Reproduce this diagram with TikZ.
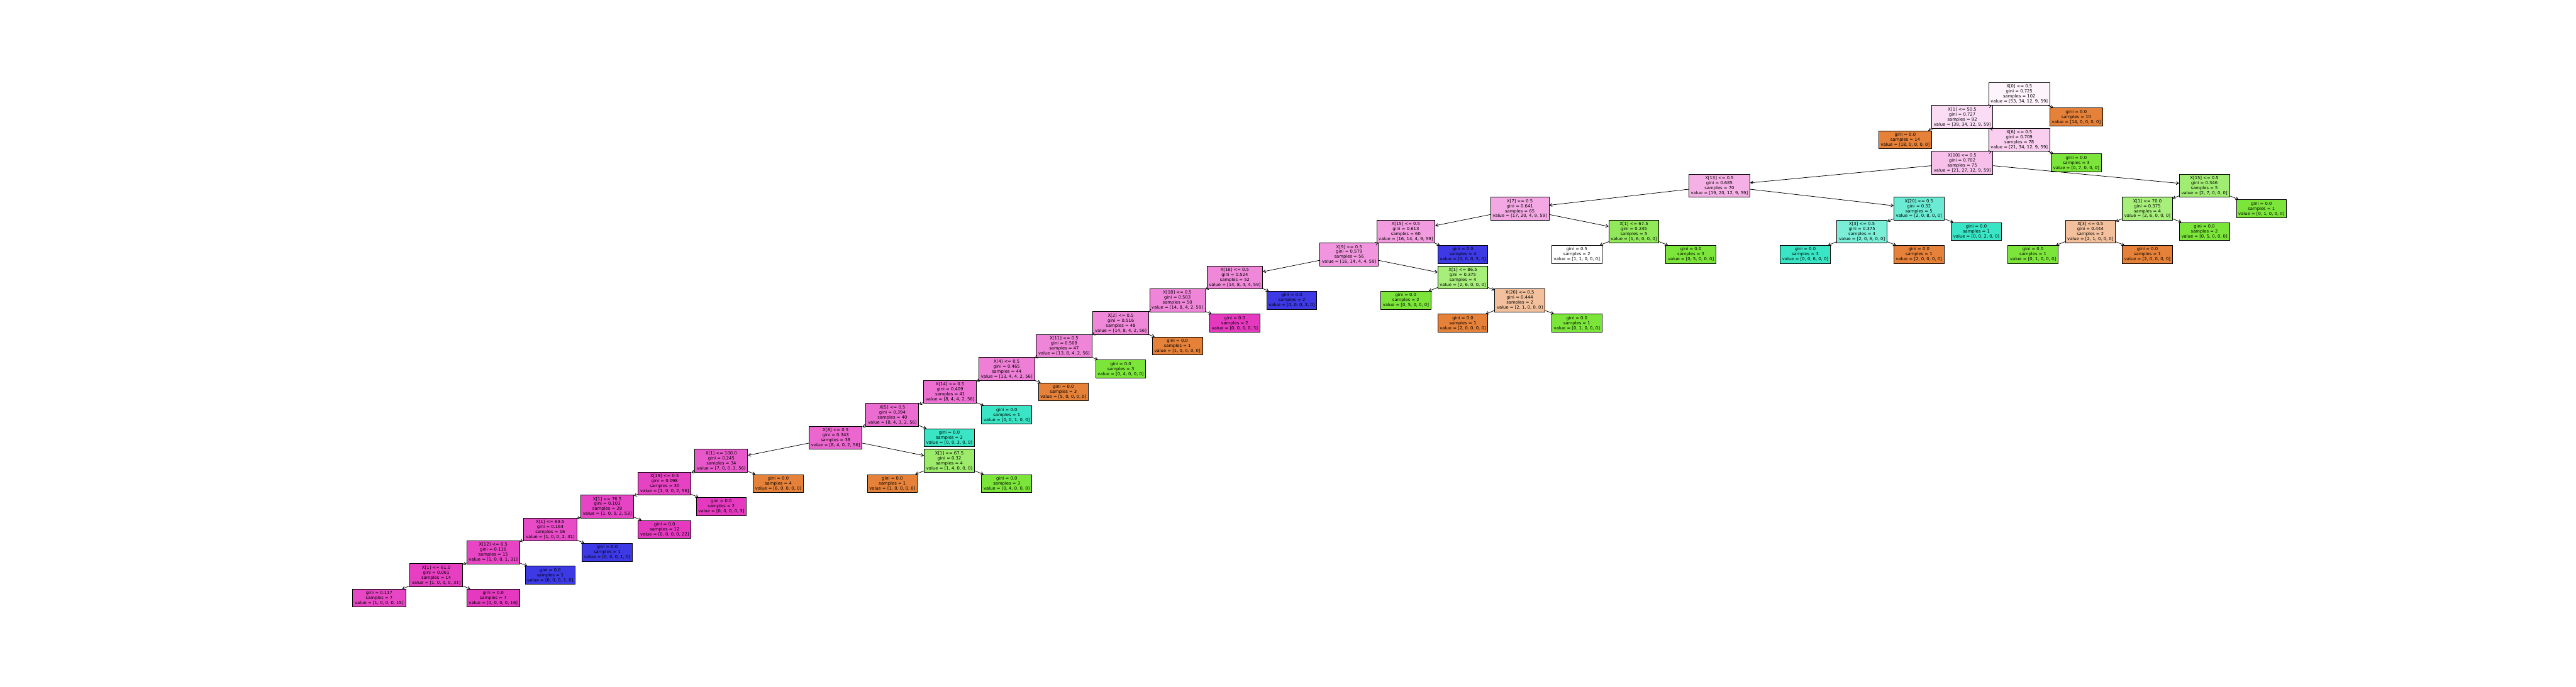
\documentclass[tikz,border=0pt]{standalone}
\usepackage{fontspec}
\setmainfont{DejaVu Sans}
\usetikzlibrary{arrows.meta}
\definecolor{cO}{RGB}{229,129,57}
\definecolor{cG}{RGB}{123,229,57}
\definecolor{cT}{RGB}{57,229,197}
\definecolor{cB}{RGB}{60,57,229}
\definecolor{cM}{RGB}{229,57,192}
\tikzset{
  tbox/.style={draw=black, line width=0.45pt, rectangle, align=center,
    inner xsep=1.7pt, inner ysep=1.7pt,
    font=\fontsize{3.56pt}{4.15pt}\selectfont},
  edge/.style={draw=black, line width=0.4pt, -{Straight Barb[length=2pt,width=2.6pt]}}
}
\newcommand{\tn}[5]{\node[tbox,fill=#4] (#1) at ({#2/100},{17.26-0.6675*#3}) {#5};}
\begin{document}
\begin{tikzpicture}
\fill[white] (0,0) rectangle (75,20);
\useasboundingbox (0,0) rectangle (75,20);
% level 0-4
\tn{root}{5879}{0}{cM!5!white}{X[0] <= 0.5\\gini = 0.725\\samples = 102\\value = [53, 34, 12, 9, 59]}
\tn{n1}{5713}{1}{cM!17.5!white}{X[1] <= 50.5\\gini = 0.727\\samples = 92\\value = [39, 34, 12, 9, 59]}
\tn{n1r}{6045}{1}{cO}{gini = 0.0\\samples = 10\\value = [14, 0, 0, 0, 0]}
\tn{n2l}{5547}{2}{cO}{gini = 0.0\\samples = 14\\value = [18, 0, 0, 0, 0]}
\tn{n2}{5879}{2}{cM!24.75!white}{X[6] <= 0.5\\gini = 0.709\\samples = 78\\value = [21, 34, 12, 9, 59]}
\tn{n3}{5713}{3}{cM!31.7!white}{X[10] <= 0.5\\gini = 0.702\\samples = 75\\value = [21, 27, 12, 9, 59]}
\tn{n3r}{6045}{3}{cG}{gini = 0.0\\samples = 3\\value = [0, 7, 0, 0, 0]}
\tn{n4}{5006}{4}{cM!39.4!white}{X[13] <= 0.5\\gini = 0.685\\samples = 70\\value = [19, 20, 12, 9, 59]}
\tn{n4r}{6418}{4}{cG!71.4!white}{X[15] <= 0.5\\gini = 0.346\\samples = 5\\value = [2, 7, 0, 0, 0]}
% level 5
\tn{a}{4425}{5}{cM!43.8!white}{X[7] <= 0.5\\gini = 0.641\\samples = 65\\value = [17, 20, 4, 9, 59]}
\tn{b}{5587}{5}{cT!75!white}{X[20] <= 0.5\\gini = 0.32\\samples = 5\\value = [2, 0, 8, 0, 0]}
\tn{c}{6252}{5}{cG!66.7!white}{X[1] <= 70.0\\gini = 0.375\\samples = 4\\value = [2, 6, 0, 0, 0]}
\tn{d}{6584}{5}{cG}{gini = 0.0\\samples = 1\\value = [0, 1, 0, 0, 0]}
% level 6
\tn{a1}{4093}{6}{cM!50!white}{X[15] <= 0.5\\gini = 0.613\\samples = 60\\value = [16, 14, 4, 9, 59]}
\tn{a2}{4757}{6}{cG!83.3!white}{X[1] <= 67.5\\gini = 0.245\\samples = 5\\value = [1, 6, 0, 0, 0]}
\tn{b1}{5421}{6}{cT!66.7!white}{X[3] <= 0.5\\gini = 0.375\\samples = 4\\value = [2, 0, 6, 0, 0]}
\tn{b2}{5754}{6}{cT}{gini = 0.0\\samples = 1\\value = [0, 0, 2, 0, 0]}
\tn{c1}{6086}{6}{cO!50!white}{X[3] <= 0.5\\gini = 0.444\\samples = 2\\value = [2, 1, 0, 0, 0]}
\tn{c2}{6418}{6}{cG}{gini = 0.0\\samples = 2\\value = [0, 5, 0, 0, 0]}
% level 7
\tn{s56}{3928}{7}{cM!53.1!white}{X[9] <= 0.5\\gini = 0.579\\samples = 56\\value = [16, 14, 4, 4, 59]}
\tn{bl4}{4259}{7}{cB}{gini = 0.0\\samples = 4\\value = [0, 0, 0, 5, 0]}
\tn{wh}{4591}{7}{white}{gini = 0.5\\samples = 2\\value = [1, 1, 0, 0, 0]}
\tn{g3a}{4923}{7}{cG}{gini = 0.0\\samples = 3\\value = [0, 5, 0, 0, 0]}
\tn{t3}{5256}{7}{cT}{gini = 0.0\\samples = 3\\value = [0, 0, 6, 0, 0]}
\tn{o1a}{5587}{7}{cO}{gini = 0.0\\samples = 1\\value = [2, 0, 0, 0, 0]}
\tn{g1b}{5919}{7}{cG}{gini = 0.0\\samples = 1\\value = [0, 1, 0, 0, 0]}
\tn{o1b}{6252}{7}{cO}{gini = 0.0\\samples = 1\\value = [2, 0, 0, 0, 0]}
% level 8
\tn{s52}{3595}{8}{cM!60!white}{X[16] <= 0.5\\gini = 0.524\\samples = 52\\value = [14, 8, 4, 4, 59]}
\tn{p865}{4259}{8}{cG!66.7!white}{X[1] <= 86.5\\gini = 0.375\\samples = 4\\value = [2, 6, 0, 0, 0]}
% level 9
\tn{x18}{3428}{9}{cM!61.6!white}{X[18] <= 0.5\\gini = 0.503\\samples = 50\\value = [14, 8, 4, 2, 59]}
\tn{bl2}{3761}{9}{cB}{gini = 0.0\\samples = 2\\value = [0, 0, 0, 2, 0]}
\tn{g2b}{4093}{9}{cG}{gini = 0.0\\samples = 2\\value = [0, 5, 0, 0, 0]}
\tn{x20o}{4425}{9}{cO!50!white}{X[20] <= 0.5\\gini = 0.444\\samples = 2\\value = [2, 1, 0, 0, 0]}
% level 10
\tn{s48}{3263}{10}{cM!60!white}{X[2] <= 0.5\\gini = 0.516\\samples = 48\\value = [14, 8, 4, 2, 56]}
\tn{m2a}{3595}{10}{cM}{gini = 0.0\\samples = 2\\value = [0, 0, 0, 0, 3]}
\tn{o1c}{4259}{10}{cO}{gini = 0.0\\samples = 1\\value = [2, 0, 0, 0, 0]}
\tn{g1c}{4591}{10}{cG}{gini = 0.0\\samples = 1\\value = [0, 1, 0, 0, 0]}
% level 11
\tn{x11}{3098}{11}{cM!61.4!white}{X[11] <= 0.5\\gini = 0.508\\samples = 47\\value = [13, 8, 4, 2, 56]}
\tn{o1d}{3428}{11}{cO}{gini = 0.0\\samples = 1\\value = [1, 0, 0, 0, 0]}
% level 12
\tn{x4}{2931}{12}{cM!65.2!white}{X[4] <= 0.5\\gini = 0.465\\samples = 44\\value = [13, 4, 4, 2, 56]}
\tn{g3b}{3263}{12}{cG}{gini = 0.0\\samples = 3\\value = [0, 4, 0, 0, 0]}
% level 13
\tn{s41}{2766}{13}{cM!72.7!white}{X[14] <= 0.5\\gini = 0.409\\samples = 41\\value = [8, 4, 4, 2, 56]}
\tn{o3}{3096}{13}{cO}{gini = 0.0\\samples = 3\\value = [5, 0, 0, 0, 0]}
% level 14
\tn{s40}{2598}{14}{cM!73.8!white}{X[5] <= 0.5\\gini = 0.394\\samples = 40\\value = [8, 4, 3, 2, 56]}
\tn{t1}{2931}{14}{cT}{gini = 0.0\\samples = 1\\value = [0, 0, 1, 0, 0]}
% level 15
\tn{x8}{2433}{15}{cM!77.4!white}{X[8] <= 0.5\\gini = 0.343\\samples = 38\\value = [8, 4, 0, 2, 56]}
\tn{t2}{2764}{15}{cT}{gini = 0.0\\samples = 2\\value = [0, 0, 3, 0, 0]}
% level 16
\tn{p100}{2100}{16}{cM!84.5!white}{X[1] <= 100.0\\gini = 0.245\\samples = 34\\value = [7, 0, 0, 2, 56]}
\tn{p675}{2764}{16}{cG!75!white}{X[1] <= 67.5\\gini = 0.32\\samples = 4\\value = [1, 4, 0, 0, 0]}
% level 17
\tn{x19}{1935}{17}{cM!94.7!white}{X[19] <= 0.5\\gini = 0.098\\samples = 30\\value = [1, 0, 0, 2, 56]}
\tn{o4}{2266}{17}{cO}{gini = 0.0\\samples = 4\\value = [6, 0, 0, 0, 0]}
\tn{o1e}{2598}{17}{cO}{gini = 0.0\\samples = 1\\value = [1, 0, 0, 0, 0]}
\tn{g3c}{2931}{17}{cG}{gini = 0.0\\samples = 3\\value = [0, 4, 0, 0, 0]}
% level 18
\tn{p765}{1768}{18}{cM!94.4!white}{X[1] <= 76.5\\gini = 0.103\\samples = 28\\value = [1, 0, 0, 2, 53]}
\tn{m2b}{2100}{18}{cM}{gini = 0.0\\samples = 2\\value = [0, 0, 0, 0, 3]}
% level 19
\tn{p695}{1602}{19}{cM!90.6!white}{X[1] <= 69.5\\gini = 0.164\\samples = 16\\value = [1, 0, 0, 2, 31]}
\tn{m12}{1935}{19}{cM}{gini = 0.0\\samples = 12\\value = [0, 0, 0, 0, 22]}
% level 20
\tn{s15}{1436}{20}{cM!93.75!white}{X[12] <= 0.5\\gini = 0.116\\samples = 15\\value = [1, 0, 0, 1, 31]}
\tn{bl1a}{1768}{20}{cB}{gini = 0.0\\samples = 1\\value = [0, 0, 0, 1, 0]}
% level 21
\tn{p61}{1270}{21}{cM!96.8!white}{X[1] <= 61.0\\gini = 0.061\\samples = 14\\value = [1, 0, 0, 0, 31]}
\tn{bl1b}{1602}{21}{cB}{gini = 0.0\\samples = 1\\value = [0, 0, 0, 1, 0]}
% level 22
\tn{lf1}{1104}{22}{cM!93.3!white}{gini = 0.117\\samples = 7\\value = [1, 0, 0, 0, 15]}
\tn{lf2}{1436}{22}{cM}{gini = 0.0\\samples = 7\\value = [0, 0, 0, 0, 16]}
% edges
\foreach \p/\c in {root/n1, root/n1r, n1/n2l, n1/n2, n2/n3, n2/n3r, n3/n4, n3/n4r,
  n4/a, n4/b, n4r/c, n4r/d, a/a1, a/a2, b/b1, b/b2, c/c1, c/c2,
  a1/s56, a1/bl4, a2/wh, a2/g3a, b1/t3, b1/o1a, c1/g1b, c1/o1b,
  s56/s52, s56/p865, s52/x18, s52/bl2, p865/g2b, p865/x20o,
  x18/s48, x18/m2a, x20o/o1c, x20o/g1c, s48/x11, s48/o1d,
  x11/x4, x11/g3b, x4/s41, x4/o3, s41/s40, s41/t1, s40/x8, s40/t2,
  x8/p100, x8/p675, p100/x19, p100/o4, p675/o1e, p675/g3c,
  x19/p765, x19/m2b, p765/p695, p765/m12, p695/s15, p695/bl1a,
  s15/p61, s15/bl1b, p61/lf1, p61/lf2}
  \draw[edge] (\p) -- (\c);
\end{tikzpicture}
\end{document}
